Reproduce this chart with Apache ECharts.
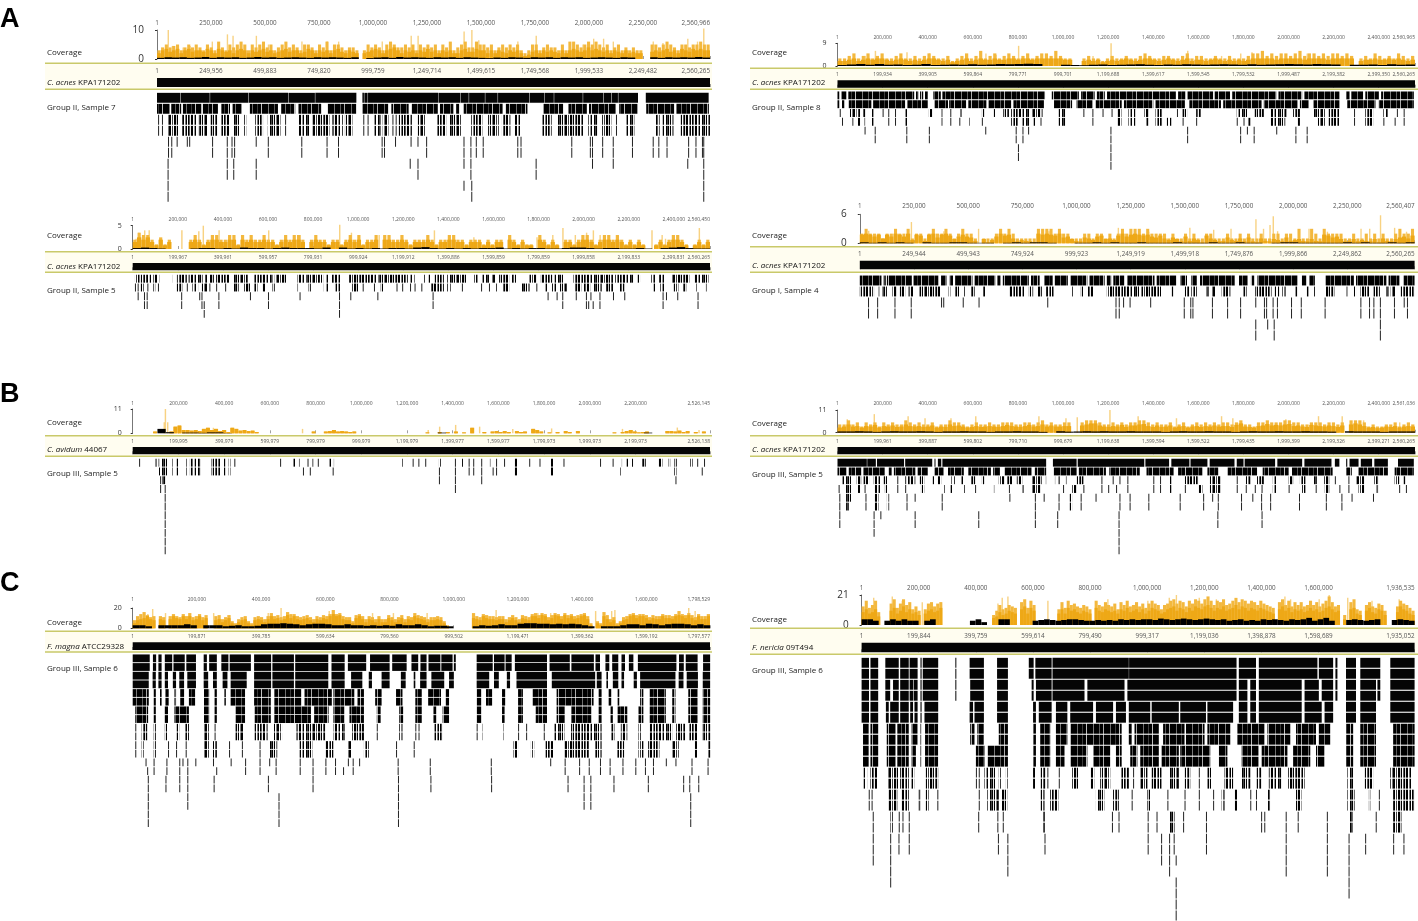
<!DOCTYPE html>
<html>
<head>
<meta charset="utf-8">
<title>Coverage</title>
<script src="https://cdn.jsdelivr.net/npm/echarts@6/dist/echarts.min.js"></script>
<style>html,body{margin:0;background:#fff}#main{width:1418px;height:921px}</style>
</head>
<body>
<div id="main"></div>
<script>
// rulers: top = sample contig, ref = reference coordinates
var topA1 = [1,250000,500000,750000,1000000,1250000,1500000,1750000,2000000,2250000,2560966];
var refA1 = [1,249956,499883,749820,999759,1249714,1499615,1749568,1999533,2249482,2560265];
var topA2 = [1,200000,400000,600000,800000,1000000,1200000,1400000,1600000,1800000,2000000,2200000,2400000,2560965];
var refA2 = [1,199934,399905,599864,799771,999701,1199688,1399617,1599545,1799532,1999487,2199382,2399350,2560265];
var topA3 = [1,200000,400000,600000,800000,1000000,1200000,1400000,1600000,1800000,2000000,2200000,2400000,2560450];
var refA3 = [1,199967,399961,599957,799931,999924,1199912,1399886,1599859,1799859,1999858,2199833,2399831,2560265];
var topA4 = [1,250000,500000,750000,1000000,1250000,1500000,1750000,2000000,2250000,2560407];
var refA4 = [1,249944,499943,749924,999923,1249919,1499918,1749876,1999866,2249862,2560265];
var topB1 = [1,200000,400000,600000,800000,1000000,1200000,1400000,1600000,1800000,2000000,2200000,2526145];
var refB1 = [1,199995,399979,599979,799979,999979,1199979,1399977,1599977,1799973,1999973,2199973,2526138];
var topB2 = [1,200000,400000,600000,800000,1000000,1200000,1400000,1600000,1800000,2000000,2200000,2400000,2561036];
var refB2 = [1,199961,399887,599802,799710,999679,1199638,1399594,1599522,1799435,1999399,2199326,2399271,2560265];
var topC1 = [1,200000,400000,600000,800000,1000000,1200000,1400000,1600000,1798529];
var refC1 = [1,199871,399785,599634,799560,999502,1199471,1399362,1599192,1797577];
var topC2 = [1,200000,400000,600000,800000,1000000,1200000,1400000,1600000,1936535];
var refC2 = [1,199844,399759,599614,799490,999317,1199036,1398878,1598689,1935052];

// coverage per equal bin along the contig: cov = body, up = highest point in the bin,
// low = dark lower part, peak = [kb, depth] of the tallest pale spikes
var covA1 = [2,3,3.5,2.5,3,3.5,2,3,3.5,2.5,3,3,2.5,3.5,3,2,3.5,3,2.5,3,2,3,3.5,3,2,3,2.5,3,3.5,2.5,3,2,2.5,3,3.5,2.5,3,3,2,2.5,3.5,3,2,3,2.5,3,2,3,3.5,2.5,2,3,2.5,2,0,2,2.5,3,3.5,3,2,3,3.5,4,3,2,3,2.5,3,2,3,2.5,3.5,2.5,3,2,3,2.5,3,2,2,3,3.5,2.5,2.5,3.5,3,3,2,3,2,3,2.5,2,3,2.5,3,2,1,1.5,2.5,3,2,3,2.5,3,2.5,2,3,2,3,3.5,3,2.5,3,4,3,3.5,3,2.5,3,2,3,2.5,2,3,2,2.5,2,2,0,0,2.5,3,2.5,3,3.5,2.5,3,2,3.5,3,2.5,3.5,3,3.5,3,3];
var upA1 = [3,4,5,4,4.5,5,3,4,5,4,5,4,3,5,4,3,6,4,3,5,4,5,6,5,3,5,4,5,6,4,5,3,4,5,6,4,5,4,3,5,5,4,3,5,4,6,3,5,5,4,3,4,4,3,0,3,5,4,5,4,3,5,6,5,4,4,5,4,5,3,5,4,5,4,5,3,5,4,6,3,4,5,6,4,4,6,5,5,4,5,3,4,5,4,5,4,5,3,2,3,5,5,3,4,5,4,4,3,5,3,6,6,5,4,5,6,5,6,5,4,5,3,4,5,3,4,3,4,3,3,0,0,5,5,4,5,6,5,4,3,5,5,4,5,5,6,5,5];
var lowA1 = [.4,.6,.5,.6,.4,.5,.7,.4,.6,.5,.6,.4,.5,.7,.5,.6,.4,.5,.6,.5,.4,.6,.5,.6,.5,.4,.6,0,.3,.5,.6,.4,.7,.5,.6,.5,.4,.6,.5,.6,.4,.6,.5,.4,.3,.5,.4,.6,.5,.4,.6,.5,.6,.4,.6,.5,.6,.4,.5,.6,.5,.4,.6,.5,0,0,.6,.4,.6,.5,.6,.5,.7,.5];
var peakA1 = [[49,10],[68,4.5],[118,4],[150,4.5],[253,6],[323,8.5],[349,8],[457,8],[513,5],[668,6],[785,6],[838,6],[1040,6],[1174,8],[1206,8],[1419,9.5],[1455,10],[1487,6.5],[1668,6],[1753,8],[1970,5],[2019,7],[2065,7],[2110,6],[2295,6],[2340,5.5],[2455,7],[2500,6],[2529,10.5]];
var covA2 = [2,2,2.5,3,2,2.5,3,2.5,3,3,2.5,2,2.5,3,2.5,2,2.5,2,2.5,3,3,2.5,2,2.5,1.5,2,2.5,3,2,2.5,3,2.5,2.5,3,2.5,2.5,3,3,2.5,3,3,2.5,3,3,3,3,3,3,2.5,2.5,0,0,2,2.5,2,2.5,1.5,2,2.5,2,2.5,3,2.5,2,2.5,3,3,2.5,2,2.5,3,2.5,2,2.5,3,2,2.5,2.5,2,2.5,3,2.5,2,2.5,2,2.5,2,2.5,3,3,3,3,3,2.5,3,3,3,3,3,2.5,3,3,3,3,2.5,3,3,3,3,3,0,2,2.5,2.5,3,2.5,2.5,3,2.5,3,2.5,2,2.5];
var upA2 = [3,3,4,5,3,4,5,3,4,5,3,3,4,5,3,3,4,3,4,5,4,3,3,4,2,3,4,5,3,4,6,3,4,5,3,4,5,4,3,4,5,3,4,5,5,4,6,4,3,3,0,0,3,4,3,3,2,3,4,3,3,4,3,3,4,5,4,3,3,4,4,3,3,4,5,3,4,4,3,3,4,3,3,4,3,3,3,4,5,5,6,4,5,4,5,5,4,5,6,4,5,5,4,5,4,5,5,4,5,4,0,3,4,3,5,4,3,4,3,5,4,3,4];
var lowA2 = [.4,.6,.8,.5,.8,.5,.6,.4,.5,.8,.4,.5,.6,.5,.7,.5,.6,.8,.7,.8,.9,.8,0,0,.5,.4,.3,.5,.6,.4,.5,.6,.7,.5,.4,.6,.5,.7,.6,.5,.6,.7,.6,.5,.7,.5,.6,.7,.8,.7,.6,.8,.7,.6,0,.5,.5,.6,.4,.7,.5,.6];
var peakA2 = [[165,6],[305,5.5],[405,5],[655,5],[800,8],[1210,9],[1550,6],[1785,5],[1835,5.5],[2080,5],[1130,4],[2230,3],[50,3.5],[120,4],[700,4.5],[1700,4]];
var covA3 = [1.5,2.5,2,2.5,1.5,.8,2,.8,1.5,0,0,0,0,1.5,2,1.5,.8,1.5,2,2,1.5,1.5,2,2,.8,2,1.5,2,1.5,1.5,2,1.5,1.5,.8,1.5,2,1.5,2,2,1.5,0,1.5,2,1.5,1.5,.8,1.5,1.5,.8,1.5,2,1.5,2,.8,1.5,1.5,2,0,2,2,1.5,1.5,2,1.5,.8,1.5,1.5,1.5,2,1.5,.8,1.5,1.5,2,2,1.5,1.5,.8,1.5,1.5,1.5,.8,1.5,.8,1.5,1.5,0,2,1.5,.8,1.5,.8,.8,0,2,1.5,.8,1.5,.8,0,1.5,1.5,.8,1.5,2,2,1.5,.8,1.5,2,2,1.5,2,1.5,.8,1.5,.8,1.5,.8,0,0,.8,1.5,.8,1.5,2,2,1.5,.8,0,.8,1.5,.8,1.5];
var upA3 = [2,3.5,3,3,2,1,2.5,1,2,0,0,0,0,2,3,2,1,2,3,3,2,2,3,3,1,3,2,3,2,2,3,2,2,1,2,3,2,3,3,2,0,2,3,2,2,1,2,2,1,2,3,2,3,1,2,2,3,0,3,3,2,2,3,2,1,2,2,2,3,2,1,2,2,3,3,2,2,1,2,2,2,1,2,1,2,2,0,3,2,1,2,1,1,0,3,2,1,2,1,0,2,2,1,2,3,3,2,1,2,3,3,2,3,2,1,2,1,2,1,0,0,1,2,1,2,3,3,2,1,0,1,2,1,2];
var lowA3 = [.2,.3,.2,.1,0,0,0,.1,.2,.2,.1,.2,.1,.3,.2,.2,.1,.2,.3,.2,.2,.2,.1,.3,0,.3,.1,.2,.1,.2,.1,.2,.2,.1,.3,.4,.2,.1,.2,.1,.2,.1,.2,.2,.3,.1,.2,.1,.2,.2,.1,.1,.2,.3,.3,.2,.1,.2,.2,.1,.1,.2,.1,0,.2,.3,.4,.2,.1,.1];
var peakA3 = [[12,2.2],[24,3.5],[50,4],[70,4],[215,4],[290,3.8],[310,5],[380,4],[600,4],[740,3],[915,5.2],[967,3.5],[1090,3],[1335,4],[1510,2.5],[1790,2.5],[1860,3],[1905,4.5],[1960,3],[2010,3.5],[2040,4],[2070,3],[2300,4],[2345,3],[2510,4.5],[2360,2.2]];
var covA4 = [1.8,2,1.8,1.4,1.8,1,1.8,1.4,2,1.8,1.4,2,.7,1.8,1.6,.5,1.8,2,1.2,1.8,2,1.6,.9,1.4,1.8,1.4,1.2,.5,0,.9,.2,.7,1.4,2,1.6,1.8,1,.4,.7,.5,.4,.2,2,1.8,2,1.8,1.6,2,1.2,1.4,.9,.5,.4,1.2,1,.7,1.4,1.6,.9,1,.7,1.6,2,1.4,1.8,2,1.8,1.6,1.8,1.4,1.2,1.6,1,.7,1.2,.9,.4,1.4,.5,1,.7,.2,1.6,1,.7,.4,.5,1.2,.7,.5,1,.4,1.2,.4,.2,1,.5,.4,.9,.7,.4,1.2,.5,.7,.9,.5,.4,.9,.5,.4,1.8,1.6,1.2,1.4,.9,.4,.5,.9,.4,.7,.5,.4,.9,.2,1,.5,.4,.9,1.2,1.4,1,1.6];
var upA4 = [2,3,2,2,2,1,2,2,3,2,2,3,1,2,2,1,2,3,2,2,3,2,1,2,3,2,2,1,0,1,1,1,2,3,2,3,2,1,1,1,1,1,3,3,3,3,2,3,2,2,1,1,1,2,2,1,2,2,1,2,1,2,3,2,3,3,3,2,3,2,2,2,2,1,2,1,1,2,1,2,1,1,2,2,1,1,1,2,1,1,2,1,2,1,1,2,1,1,2,2,1,2,2,1,3,1,1,3,2,1,3,2,2,2,2,1,1,2,1,1,2,1,2,1,2,1,1,2,3,2,2,3];
var lowA4 = [.2,.1,.2,.1,.2,.1,0,.2,.1,.1,.2,.2,.1,.1,.1,0,.1,.2,.1,.2,.2,.1,0,0,.1,.1,.2,.1,.2,.1,.1,.2,.1,.1,.1,.2,.1,.1,.1,.2,.1,.1,.2,.1,.1,0,.1,.2,.2,.1,.1,.1,.1,.1,.2,.1,.2,.1,.1,.2,.1,.2];
var peakA4 = [[38,2.6],[160,2.4],[235,4.4],[385,2.5],[545,3],[870,2.5],[1190,3.2],[1330,2.4],[1520,3.2],[1630,2.8],[1710,3],[1825,5],[1860,3],[1890,3.8],[1905,5.6],[1925,2.5],[2070,3],[2155,2.4],[2310,3],[2350,3],[2400,5.8],[2465,3.2],[2520,2.4]];
var covB1 = [0,0,0,0,0,.8,0,0,0,.8,3,3.5,1.5,1.5,1.2,1.5,1,2,2.5,1.5,2,1,1.5,.6,2.5,2,1.2,1.5,1,1.2,.6,0,0,0,0,0,0,0,0,0,0,0,0,0,.8,0,0,.8,1,1.5,.8,1,.8,.6,.8,0,0,0,0,0,0,0,0,0,0,0,0,0,0,0,0,0,.4,0,0,.6,0,.6,0,.8,0,.4,0,2.5,0,0,.6,0,.8,1,.6,1,.6,0,1,.6,.8,0,2,1.5,.8,0,.4,0,.6,0,1,.6,0,1,0,0,0,0,0,0,0,0,.4,0,.6,1,1.5,.8,.4,.6,.8,0,0,0,0,1,1,.8,1.2,.6,1,0,.6,0,.8,0];
var upB1 = covB1;
var lowB1 = [0,0,0,2,.5,0,.3,.3,.2,.4,.4,.1,0,0,0,0,0,0,0,0,0,0,0,0,0,0,0,0,0,0,0,0,0,0,0,0,0,.3,0,0,0,0,0,0,0,0,0,0,0,0,0,0,0,0,0,0,0,0,0,0,0,0,.3,0,0,0,0,0,0,0];
var peakB1 = [[140,11],[135,5],[150,5],[350,2.5],[740,2],[1340,3],[1410,3.8],[1515,3],[1290,1.5],[1660,2],[1830,2.2],[2140,2],[2380,2.6],[2475,1.5]];
var covB2 = [2.5,3,4,3,3.2,2.5,3.2,3,3.8,2.5,3.2,3,3.5,2.8,3,4,3.2,3,3.2,2.8,3,3.5,2.5,3,2.8,4,3.2,3.5,3,2.5,2.8,3.2,2.8,3,3.2,3,2.8,3.2,3.8,3.2,3,2.8,3.2,3.8,3,3.2,4,3,3.5,3,3,3.2,3.2,0,0,3.5,4,4.5,4.5,3.5,3,2.8,3.2,3,3.8,2.8,3.5,3.5,4,4.2,3.2,2.8,3.5,2.8,3,3.5,2.5,3,3.2,2.5,3,3.2,2.8,3.2,3,3.5,3,3.2,3.2,2.8,3.8,4.5,3,2.8,2.5,3.2,3.5,4.2,3.5,3.8,3.5,4,4.2,3.2,3.5,3,2.8,3.8,3.5,3.2,3,3.5,3.2,2.8,3.5,0,4,4.5,4,3.2,2.5,2.8,2.2,2.5,3,2.8,3.2,2.5,3,3.2,3];
var upB2 = [4,4,6,4,5,3,5,4,5,3,5,4,5,4,4,6,5,4,5,4,4,5,3,4,4,6,5,5,4,3,4,5,4,4,5,4,4,5,5,5,4,4,5,5,4,5,6,4,5,4,4,5,5,0,0,5,6,6,6,5,4,4,5,4,5,4,5,5,6,6,5,4,5,4,4,5,3,4,5,3,4,5,4,5,4,5,4,5,5,4,5,6,4,4,3,5,5,6,5,5,5,6,6,5,5,4,4,5,5,5,4,5,5,4,5,0,6,6,6,5,3,4,3,3,4,4,5,3,4,5,4];
var lowB2 = [.6,.6,.7,.6,.4,.6,.7,.6,.6,.7,.6,.4,.6,.6,.7,.6,.6,.4,.6,.6,.7,.6,.6,.4,0,.7,.5,.6,.7,.6,.7,.6,.6,.7,.6,.6,.6,.4,.6,.7,.6,.6,.7,.6,.6,.4,.6,.7,.6,.6,.7,.6,.6,.7,.6,.6,.5,0,.7,.6,.6,.6,.4,.6,.6,.6];
var peakB2 = [[40,6.5],[160,9],[310,8],[610,8],[890,8],[1010,7],[1060,7.5],[1205,11],[1330,8],[1500,7],[1700,8],[1750,7],[1985,6.5],[2130,8],[2235,8],[2330,6],[2490,5],[385,7],[500,7]];
var covC1 = [5,8,9,10,12,9,8,0,9,8,0,9,12,10,9,12,9,12,8,9,12,8,10,0,0,8,9,6,8,10,5,3,6,8,9,5,3,8,9,8,6,9,12,9,10,8,9,13,10,12,9,8,9,10,8,6,9,8,10,9,12,14,12,13,9,8,8,5,10,12,9,6,9,8,6,9,6,6,10,8,6,8,10,6,9,8,12,10,9,8,6,8,8,9,8,5,2,0,0,0,0,0,0,0,10,9,8,12,10,9,9,8,9,9,6,8,10,8,6,10,9,8,12,12,10,13,12,8,10,13,12,9,13,10,12,9,10,12,13,9,3,0,5,3,12,9,6,8,3,5,8,9,12,13,10,12,12,10,8,10,9,9,12,10,10,9,12,13,12,10,13,10,8,12,9,9,12];
var upC1 = [8,12,14,16,13,11,12,0,12,11,0,12,14,12,11,14,12,15,11,12,14,11,13,0,0,12,13,9,11,13,7,5,9,11,12,7,5,11,12,11,9,12,15,12,13,11,12,16,14,14,12,11,12,13,11,9,12,11,13,12,14,18,14,15,12,11,11,7,13,14,12,9,12,11,9,12,9,9,13,11,9,11,13,9,12,11,15,13,12,11,9,11,11,12,11,7,3,0,0,0,0,0,0,0,15,12,11,14,13,12,12,11,12,12,9,11,13,11,9,13,12,11,14,15,13,15,14,11,13,15,14,12,15,13,14,12,13,14,15,12,5,0,7,5,16,13,9,11,5,7,11,12,14,15,13,14,14,13,11,13,12,12,14,13,13,12,14,17,14,13,15,13,11,14,12,12,14];
var lowC1 = [3,3,2,0,3,3,3,3,4,3,0,3,3,3,2,2.5,3,2,2,2.5,4,4.5,4.5,5,4.5,4,3,4,4.5,4.5,4,3,3,4,3,3,2.5,3,2.5,3,2.5,4,3,3,4,3,2,2.5,2.5,2,0,0,0,2,3,2.5,3,4,3,3,4.5,5,5,4.5,4.5,4,4.5,4,4.5,4,3,2,0,2,2,2,3,4,4,3,4.5,4,3,4,4.5,4.5,4,3,4,3];
var peakC1 = [[60,19],[45,14],[100,15],[250,15],[300,13],[460,20],[420,15],[610,17],[745,15],[810,15],[915,15],[1130,18],[1260,15],[1300,15],[1440,17],[1490,17],[1500,18],[1730,20],[1750,17]];
var covC2 = [9,11,8,9,11,6,0,0,0,10,12,8,10,13,9,11,8,9,7,0,8,10,11,9,10,12,0,0,0,0,0,0,0,0,0,1,0,0,0,0,0,0,5,6,9,7,8,10,9,8,0,11,13,8,12,10,0,0,0,0,0,0,0,8,11,8,12,10,11,9,8,10,9,8,0,12,10,9,11,10,9,10,8,11,10,12,9,10,11,9,11,8,10,12,11,10,8,9,11,12,13,10,12,11,9,12,10,13,12,11,13,14,12,10,12,11,13,10,11,12,14,11,13,12,10,12,11,10,12,11,10,9,8,0,11,13,10,12,9,11,10,11,9,10,12,10,11,9,10,12,13,11,9,10,0,4,0,11,12,8,7,0,10,12,9,8,11,10,7,0,0,0,9,13,11,10,8,7];
var upC2 = [13,17,12,14,17,9,0,0,0,15,18,12,15,18,14,16,11,13,10,0,11,15,16,13,15,16,0,0,0,0,0,0,0,0,0,2,0,0,0,0,0,0,7,10,14,11,12,14,13,12,0,16,18,12,17,14,0,0,0,0,0,0,0,11,16,12,17,14,15,13,12,14,13,11,0,17,14,13,16,14,13,15,11,16,14,17,13,14,16,13,15,12,15,17,15,14,11,14,15,17,18,15,17,16,13,17,15,18,17,15,18,20,17,14,17,16,18,14,15,17,19,16,18,17,15,17,16,14,17,15,14,13,12,0,16,18,14,17,13,16,14,16,13,14,17,14,16,13,15,17,20,16,13,14,0,7,0,16,18,11,10,0,14,16,13,12,15,14,10,0,0,0,13,17,15,14,12,10];
var lowC2 = [4,4,3,0,3,4,3,4,3,3,0,3,4,0,0,0,0,0,0,3,4,2,0,0,4,4,0,0,0,0,3,3.5,4,3.5,3,3.5,4,4,3.5,3,3,3.5,3,3.5,3,4,3.5,4,3.5,4,4,3.5,4.5,4,3.5,4,4.5,4,3.5,4,4.5,4,3.5,4,3,3.5,4,3,3.5,3,4,3.5,4,3.5,3,4,3.5,4,5,3,4,5,3,0,0,3.5,4,3.5,3,3.5,4,0,0,3.5,4,3.5,3];
var peakC2 = [[40,19],[105,20],[140,17],[210,16],[275,16],[475,15],[490,19],[510,20],[650,17],[1075,19],[1100,21],[1180,19],[1240,18],[1480,20],[1600,18],[1635,21],[1700,19],[1785,17],[1880,18],[1500,18],[860,18],[1000,17]];

// read stacks per track row, in kb: a plain number is one short read, [from,to] a run of reads
var a1r0 = [[0,107],[109,244],[246,422],[424,607],[609,731],[733,923],[951,958],[960,975],[977,1301],[1303,1405],[1407,1443],[1445,1518],[1520,1577],[1579,1724],[1726,1794],[1796,1837],[1839,1971],[1973,2066],[2068,2103],[2105,2134],[2136,2227],[2263,2554]];
var a1r1 = [[0,60],[66,112],[120,205],[212,282],[298,338],[350,392],[430,560],[575,640],[655,760],[790,922],[952,1070],[1085,1165],[1180,1300],[1310,1372],[1385,1400],[1420,1600],[1615,1715],[1790,1880],[1905,1990],[2000,2125],[2140,2225],[2265,2395],[2405,2555]];
var a1r2 = [5,23,[51,100],[117,190],[194,236],[249,279],[296,338],[349,381],[402,413],[455,491],[513,572],593,[657,704],[720,800],[812,860],[870,905],955,975,[1000,1035],[1045,1072],1090,1105,[1120,1180],[1205,1245],[1295,1340],[1350,1412],[1455,1508],[1533,1582],[1597,1636],[1657,1689],[1785,1827],[1853,1976],[1997,2040],[2061,2104],2125,[2167,2210],[2306,2327],[2340,2391],[2423,2560]];
var a1r4 = [51,66,91,138,149,255,323,345,357,457,513,668,785,838,1040,1051,1102,1174,1206,1246,1419,1451,1476,1508,1668,1683,1918,2004,2014,2061,2110,2199,2295,2321,2359,2459,2493,2523,2529];
var a1r5 = [51,66,255,323,345,357,513,668,785,838,1040,1051,1246,1419,1451,1476,1508,1668,1683,1918,2004,2014,2061,2110,2199,2295,2321,2359,2459,2493,2523,2529];
var a1r6 = [49,323,353,457,1170,1206,1419,1451,1753,2014,2110,2455,2529];
var a1r7 = [49,323,353,457,1206,1451,1753,2529];
var a1r8 = [49,1419,1455,2529];
var a1r9 = [49,1455,2529];
var rowsA1 = [a1r0,a1r1,a1r2,a1r2,a1r4,a1r5,a1r6,a1r7,a1r8,a1r9];

var a2r0 = [[0,10],[18,40],[48,340],[348,358],[366,380],[388,400],[425,458],[465,920],[950,1070],[1080,1140],[1150,1185],[1195,1500],[1510,1545],[1552,1665],[1672,1740],[1750,1945],[1955,2060],[2070,2225],[2255,2270],[2278,2330],[2340,2400],[2410,2555]];
var a2r1 = [[0,10],[20,30],[50,150],[158,300],[310,400],[430,490],[495,570],[580,660],[670,770],[780,915],[960,1040],[1060,1130],[1145,1260],[1270,1400],[1410,1540],[1560,1700],[1710,1880],[1890,2040],[2050,2090],[2110,2225],[2260,2385],[2400,2555]];
var a2r2 = [10,[55,85],[92,100],[112,125],[150,160],200,225,255,[300,312],[405,420],[460,465],500,[540,550],[640,650],[690,700],[735,760],[770,850],[860,900],905,[980,1010],1090,1130,1175,1215,[1240,1260],[1290,1320],[1360,1380],[1410,1440],1505,[1530,1550],[1590,1610],[1770,1820],[1850,1890],[1920,1990],[2020,2050],[2110,2165],[2175,2225],2290,[2340,2375],[2420,2440],2480,2510];
var a2r3 = [20,[60,70],[90,100],[120,125],[150,160],225,255,[300,312],[460,465],500,540,[585,590],640,[770,800],[815,850],[870,880],900,[980,1010],1130,[1240,1260],[1290,1320],[1370,1380],[1410,1440],[1460,1480],1530,1590,1770,1800,[1820,1830],[1920,1985],[2040,2050],[2130,2165],[2175,2225],2290,[2340,2375],2420,2470,2510];
var a2r4 = [120,165,305,405,655,790,820,845,1210,1550,1785,1815,1845,1945,2030,2080];
var a2r5 = [165,305,405,790,820,1210,1550,1785,1845,2030,2080];
var a2r6 = [800,1210];
var a2r8 = [1210];
var rowsA2 = [a2r0,a2r1,a2r2,a2r3,a2r4,a2r5,a2r6,a2r6,a2r8];

var a3r0 = [[10,30],[35,55],[60,70],[75,85],[90,110],[120,130],[170,175],[195,200],[205,240],[248,310],[322,330],[340,360],[370,430],[442,510],[540,620],[630,680],[730,760],[770,830],[835,845],[860,870],[880,920],[960,1080],[1090,1220],[1230,1250],[1290,1300],[1310,1320],[1340,1380],[1395,1480],[1515,1530],[1545,1580],[1590,1610],[1625,1670],[1680,1700],[1760,1790],[1810,1860],[1870,1910],[1955,2130],[2140,2220],[2240,2250],[2300,2320],[2335,2360],[2390,2470],[2490,2555]];
var a3r1 = [10,22,[35,50],65,[90,100],112,[195,220],240,[265,290],[305,330],340,370,410,[442,470],[490,520],[540,555],[575,590],[620,630],[730,735],[780,790],[840,845],[860,870],[900,920],[970,1000],1020,1070,[1100,1110],1170,1195,1230,1250,1280,[1320,1380],[1395,1410],1460,1545,1580,[1610,1620],[1640,1670],[1720,1760],1790,[1830,1840],[1860,1880],[1895,1925],[1960,1990],[2000,2030],[2040,2080],[2100,2130],[2160,2180],[2310,2320],[2340,2360],[2400,2420],[2440,2455],[2500,2505],[2540,2545]];
var a3r2 = [22,50,62,215,295,305,380,520,600,740,915,965,1085,1330,1840,1880,1905,1965,2010,2030,2070,2130,2180,2350,2365,2415,2505];
var a3r3 = [50,62,215,305,315,380,600,915,1330,1905,2010,2020,2040,2070,2350,2505];
var a3r4 = [315,915];
var rowsA3 = [a3r0,a3r1,a3r2,a3r3,a3r4];

var a4r0 = [[0,100],[110,120],[125,240],[248,365],[375,400],[415,430],[440,520],[530,625],[635,650],[660,780],[790,830],[850,890],[900,960],[970,1050],[1060,1130],[1140,1160],[1170,1220],[1235,1360],[1370,1460],[1480,1510],[1530,1555],[1570,1730],[1750,1790],[1805,1820],[1835,2020],[2040,2060],[2075,2100],[2150,2280],[2290,2430],[2440,2490],[2510,2560]];
var a4r1 = [[0,10],[15,60],[65,70],[85,90],[105,125],[150,170],[185,210],[225,250],[275,370],[410,420],[440,460],[480,490],[510,530],[570,580],[690,760],[780,800],[820,840],[860,895],[975,985],[1020,1030],[1050,1080],[1140,1290],[1300,1390],[1440,1450],[1500,1520],[1530,1555],[1600,1610],[1625,1640],[1670,1710],[1770,1785],[1825,1900],[1915,1935],[1950,1965],[2010,2020],[2060,2070],[2090,2100],[2150,2190],[2240,2250],[2280,2290],[2310,2350],[2370,2400],[2430,2440],[2450,2470],[2495,2560]];
var a4r2 = [38,80,160,235,375,385,475,548,865,1180,1195,1215,1245,1340,1495,1525,1535,1625,1695,1755,1825,1865,1875,1905,1925,1990,2035,2145,2310,2350,2370,2400,2465,2510,2525];
var a4r3 = [38,80,160,235,1180,1195,1495,1525,1535,1625,1695,1755,1865,1875,1905,1925,1990,2035,2145,2310,2350,2370,2400,2465,2525];
var a4r4 = [1825,1880,1910,2400];
var a4r5 = [1825,1910,2400];
var rowsA4 = [a4r0,a4r1,a4r2,a4r3,a4r4,a4r5];

var b1r0 = [28,[100,104],[110,116],[122,150],[170,175],[190,200],[235,240],[250,262],[270,295],[345,370],[375,385],[395,405],[420,430],[445,448],645,[702,712],[725,730],765,[785,790],810,[860,870],[880,885],[1180,1182],1225,1250,1280,[1340,1348],1410,[1440,1445],1470,1490,1525,[1560,1565],1590,1625,[1670,1685],1735,1780,[1830,1840],1885,2045,2100,[2140,2145],[2160,2170],[2185,2190],[2230,2245],[2300,2320],[2345,2352],2370,[2375,2385],[2440,2450],2470,2500];
var b1r1 = [[115,150],[170,175],[190,200],[235,240],[250,262],[270,295],[345,370],[375,385],[395,405],[420,430],745,775,875,1340,1410,1470,1490,1525,1575,1590,[1670,1685],[1830,1840],[2130,2135],[2370,2380],2490];
var b1r2 = [120,[130,145],1340,1410,1525,2375];
var b1r3 = [120,140,1410];
var b1r4 = [140];
var rowsB1 = [b1r0,b1r1,b1r2,b1r3,b1r4,b1r4,b1r4,b1r4,b1r4,b1r4,b1r4];

var b2r0 = [[0,130],[132,170],[175,295],[300,420],[430,431],[445,460],[465,925],[955,1060],[1065,1360],[1365,1470],[1480,1560],[1565,1640],[1650,1760],[1770,1800],[1805,1940],[1950,2060],[2070,2190],[2205,2225],[2255,2260],[2270,2310],[2320,2370],[2380,2440],[2485,2555]];
var b2r1 = [[0,40],[50,105],[115,210],[225,240],[250,345],[355,400],[430,470],[490,560],[580,680],[690,720],[740,860],[875,925],[958,1060],[1070,1190],[1205,1340],[1370,1490],[1510,1620],[1640,1690],[1730,1860],[1885,2000],[2015,2195],[2255,2280],[2310,2440],[2470,2555]];
var b2r2 = [[20,60],[85,105],[115,140],[160,190],[205,220],265,300,[310,345],[365,385],[420,430],[445,460],[505,520],[550,560],[590,610],[640,650],[715,740],[750,775],[795,820],[860,905],[920,925],[960,965],[975,985],[1010,1015],[1060,1090],1170,1220,1250,1285,1400,1430,[1470,1480],[1540,1600],[1650,1700],1770,[1810,1830],[1860,1890],[1930,1950],[2000,2020],[2050,2075],[2110,2125],[2155,2180],2205,2265,[2300,2335],[2380,2400],[2470,2490],[2510,2520]];
var b2r3 = [5,[35,60],[90,100],120,[165,190],[210,220],265,300,[370,385],[470,475],[500,515],[560,565],610,[690,695],760,[815,825],[860,900],1000,[1040,1060],1090,1170,1200,1235,1285,1400,1430,[1470,1480],1540,[1600,1620],[1650,1700],1770,1810,1850,1880,[1930,1950],2000,[2060,2075],2120,[2160,2180],2225,2265,[2310,2335],[2390,2400],2490,2520];
var b2r4 = [8,[38,61],124,[164,184],[219,229],306,342,462,762,875,914,980,[1030,1040],1078,1144,1250,1295,1378,1517,1621,1661,1686,1789,1839,1878,1918,2046,2165,2234,2279,2374];
var b2r5 = [8,[38,50],124,[164,184],[219,229],306,462,875,980,[1030,1040],1078,1250,1295,1378,1517,1621,1686,1789,1878,1918,2046,2165,2234];
var b2r6 = [8,160,190,342,624,875,974,1246,1684,1880];
var b2r7 = [8,160,342,624,875,974,1246,1684,1880];
var b2r8 = [160,1246];
var b2r9 = [1246];
var rowsB2 = [b2r0,b2r1,b2r2,b2r3,b2r4,b2r5,b2r6,b2r7,b2r8,b2r9,b2r9];

var c1r0 = [[0,53],[63,73],[80,90],[100,123],[127,162],[167,197],[221,231],[238,262],[276,298],[302,368],[378,431],[435,502],[506,609],[619,660],[670,727],[739,800],[808,853],[868,889],[896,915],[921,958],[961,996],[1000,1006],[1071,1121],[1125,1158],[1161,1180],[1190,1290],[1298,1361],[1366,1436],[1441,1455],[1472,1484],[1493,1512],[1522,1533],[1545,1559],[1573,1693],[1701,1716],[1722,1759],[1776,1798]];
var c1r2 = [[0,50],[62,72],[80,90],[100,110],[125,135],[145,160],[170,197],[221,235],[250,262],[280,295],[305,355],[378,431],[435,502],[506,609],[619,660],[680,715],[735,745],[775,800],[835,850],[875,880],[895,915],[930,970],[985,1000],[1071,1110],[1125,1140],[1165,1175],[1195,1290],[1305,1440],[1445,1460],[1475,1480],[1495,1512],[1522,1530],[1560,1570],[1580,1690],[1700,1715],[1725,1760],[1775,1798]];
var c1r4 = [[0,50],[65,72],[85,90],[102,112],[130,135],[148,160],[175,195],[222,238],[255,262],[285,290],[305,350],[378,430],[440,525],[535,620],[625,690],[700,720],[755,775],[820,840],[880,900],[920,960],[975,985],[1071,1085],[1100,1120],[1150,1160],[1200,1215],[1245,1290],[1320,1435],[1450,1460],[1480,1490],[1510,1515],[1580,1590],[1610,1660],[1680,1690],[1730,1760],[1775,1798]];
var c1r6 = [[8,48],[65,72],[100,110],[130,175],[222,238],[255,262],[320,350],[380,430],[440,555],[565,610],[625,660],[675,720],[760,772],[830,842],[880,900],[935,945],[965,985],[1071,1085],[1150,1158],[1200,1215],[1255,1290],[1320,1345],[1365,1430],[1450,1460],[1488,1495],[1510,1540],[1575,1590],[1610,1660],[1680,1690],[1730,1760],[1775,1798]];
var c1r8 = [8,[28,45],[65,72],[100,110],[135,145],[160,175],[222,238],255,[320,345],[380,420],[440,465],[510,600],[625,660],[680,720],760,[830,840],880,890,[940,965],1071,[1085,1090],[1150,1155],1200,1225,1280,[1310,1345],[1365,1460],[1490,1500],[1520,1540],[1575,1585],[1610,1680],[1690,1720],[1730,1760],[1775,1798]];
var c1r10 = [8,[28,35],[65,72],110,135,165,[222,238],[250,262],300,340,395,[425,450],[520,560],[600,625],[670,680],[720,735],820,875,[1185,1200],[1240,1250],[1285,1310],[1345,1420],[1440,1460],[1505,1530],[1575,1590],[1605,1640],[1680,1700],[1750,1760],[1790,1798]];
var c1r12 = [40,65,105,145,155,170,195,250,305,350,395,425,445,520,560,600,630,670,685,705,825,925,1115,1300,1345,1390,1420,1455,1485,1525,1565,1595,1620,1660,1690,1740,1790];
var c1r13 = [45,65,105,145,170,260,350,395,445,520,560,600,630,655,685,825,925,1115,1345,1390,1420,1455,1485,1525,1565,1595,1620,1740,1790];
var c1r14 = [47,102,145,170,252,421,560,826,927,1116,1354,1404,1425,1497,1604,1714,1733,1761];
var c1r16 = [47,170,454,826,1404,1425,1736];
var c1r18 = [47,454,826,1736];
var rowsC1 = [c1r0,c1r0,c1r2,c1r2,c1r4,c1r4,c1r6,c1r6,c1r8,c1r8,c1r10,c1r10,c1r12,c1r13,c1r14,c1r14,c1r16,c1r16,c1r18,c1r18];

var c2r0 = [[0,26],[31,58],[83,130],[135,165],[168,196],[206,210],[214,268],[328,331],[378,428],[474,512],[585,602],[608,665],[668,935],[936,1312],[1320,1380],[1390,1595],[1600,1650],[1658,1665],[1695,1730],[1745,1815],[1850,1935]];
var c2r2 = [[0,26],[31,58],[83,100],[110,130],[135,165],[168,180],[182,196],[206,210],[214,268],[328,331],[380,428],[474,512],[595,602],[610,665],[668,780],[790,920],[930,1312],[1320,1350],[1360,1380],[1390,1540],[1550,1600],[1610,1650],[1658,1665],[1695,1730],[1745,1800],[1805,1815],[1850,1935]];
var c2r4 = [[0,26],[31,58],[85,95],[100,130],[135,165],[170,180],[185,196],[206,210],[220,268],[378,390],[395,428],[474,512],[600,610],[620,665],[680,720],[730,810],[820,880],[890,925],[935,1010],[1015,1110],[1115,1205],[1210,1300],[1320,1350],[1360,1380],[1390,1540],[1550,1610],[1620,1650],[1695,1730],[1745,1800],[1850,1935]];
var c2r6 = [[5,26],[31,58],[88,120],[125,165],[175,196],[206,210],[222,268],[380,395],[405,428],[480,512],[600,610],[625,660],[680,720],[730,910],[935,945],[955,1040],[1055,1130],[1135,1200],[1210,1290],[1315,1410],[1420,1500],[1520,1590],[1600,1640],[1695,1720],[1745,1800],[1860,1935]];
var c2r8 = [[5,26],[31,58],[88,120],[125,165],[175,190],[206,210],[222,268],[400,430],[440,512],[600,610],[625,660],[680,710],[730,790],[810,870],[890,910],[940,965],[975,1040],[1050,1110],[1115,1220],[1250,1280],[1330,1390],[1400,1490],[1510,1570],[1590,1620],[1695,1720],[1745,1800],[1860,1935]];
var c2r10 = [[7,12],[22,26],[31,55],[90,130],[135,165],[175,185],[225,268],400,410,[430,470],[480,490],[505,512],[600,610],[625,645],650,690,[735,760],[800,815],[835,870],[905,935],950,[975,1000],[1015,1050],[1075,1110],[1130,1150],1180,[1210,1225],[1270,1300],[1330,1360],[1380,1400],[1425,1470],[1490,1550],[1700,1720],[1760,1790],[1850,1925]];
var c2r12 = [25,35,[95,125],[140,165],[200,205],[225,235],265,410,[440,480],[490,510],[625,640],[660,690],[820,850],[880,900],945,[1000,1010],1070,1130,1180,1230,[1260,1270],[1305,1315],1360,1380,[1420,1430],[1520,1540],[1700,1725],[1775,1780],1810,[1860,1935]];
var c2r14 = [39,[101,112],130,143,165,408,475,494,[632,641],876,899,1001,1032,[1079,1095],1125,1205,1398,1409,1484,1526,1628,[1706,1718],1799,[1860,1889]];
var c2r16 = [39,100,129,165,477,510,640,1001,1048,1076,1092,1205,1484,1628,1704,1762,1860,1896];
var c2r18 = [39,100,510,1048,1076,1099,1484,1628,1704];
var c2r19 = [100,510,1076,1484,1628,1704];
var c2r20 = [100,1099,1704];
var c2r21 = [1099,1704];
var c2r22 = [1099];
var rowsC2 = [c2r0,c2r0,c2r2,c2r2,c2r4,c2r4,c2r6,c2r6,c2r8,c2r8,c2r10,c2r10,c2r12,c2r12,c2r14,c2r14,c2r16,c2r16,c2r18,c2r19,c2r20,c2r21,c2r22,c2r22];

// page layout of each block, pixels
var panels = [
 {ref:'C. acnes', strain:' KPA171202', sample:'Group II, Sample 7', top:topA1, rul:refA1, cov:covA1, up:upA1, low:lowA1, peak:peakA1, rows:rowsA1, solid:1, dense:1, max:10, x0:157, x1:710, bandL:45, bandR:712, lab:22.7, covT:30, covB:59, bT:63.3, bB:89.3, ref2:70.7, barT:78, barB:87, rT:92.3, pitch:11, covY:53, samY:108, refY:83, lx:47, axOff:10, fs:6.3, yfs:10},
 {ref:'C. acnes', strain:' KPA171202', sample:'Group II, Sample 8', top:topA2, rul:refA2, cov:covA2, up:upA2, low:lowA2, peak:peakA2, rows:rowsA2, solid:0, dense:2, max:9, x0:837.5, x1:1415, bandL:750, bandR:1418, lab:37.3, covT:43.3, covB:66, bT:68.3, bB:89.3, ref2:74.7, barT:80.3, barB:87.7, rT:91, pitch:8.8, covY:53, samY:108, refY:83, lx:752, axOff:8, fs:5, yfs:7},
 {ref:'C. acnes', strain:' KPA171202', sample:'Group II, Sample 5', top:topA3, rul:refA3, cov:covA3, up:upA3, low:lowA3, peak:peakA3, rows:rowsA3, solid:0, dense:0, max:5, x0:132.7, x1:710, bandL:45, bandR:712, lab:220, covT:225.7, covB:249, bT:251.7, bB:272.3, ref2:257.7, barT:263, barB:270.3, rT:274.3, pitch:8.8, covY:236, samY:291, refY:266.5, lx:47, axOff:8, fs:5, yfs:7},
 {ref:'C. acnes', strain:' KPA171202', sample:'Group I, Sample 4', top:topA4, rul:refA4, cov:covA4, up:upA4, low:lowA4, peak:peakA4, rows:rowsA4, solid:0, dense:1, max:6, x0:859.8, x1:1414.6, bandL:750, bandR:1418, lab:206.3, covT:214.3, covB:243.3, bT:246.7, bB:272.3, ref2:254, barT:260.7, barB:269.3, rT:275, pitch:11, covY:236, samY:291, refY:266, lx:752, axOff:10, fs:6.3, yfs:10},
 {ref:'C. avidum', strain:' 44067', sample:'Group III, Sample 5', top:topB1, rul:refB1, cov:covB1, up:upB1, low:lowB1, peak:peakB1, rows:rowsB1, solid:0, dense:0, max:11, x0:132.7, x1:710, bandL:45, bandR:712, lab:404, covT:409, covB:433.3, bT:435.7, bB:456.3, ref2:441.3, barT:447, barB:454.3, rT:458.3, pitch:8.77, covY:423, samY:474, refY:449.5, lx:47, axOff:8, fs:5, yfs:7},
 {ref:'C. acnes', strain:' KPA171202', sample:'Group III, Sample 5', top:topB2, rul:refB2, cov:covB2, up:upB2, low:lowB2, peak:peakB2, rows:rowsB2, solid:1, dense:1, max:11, x0:837.5, x1:1415, bandL:750, bandR:1418, lab:404, covT:410, covB:432.7, bT:435.7, bB:456.3, ref2:441.7, barT:447, barB:454.3, rT:458.3, pitch:8.77, covY:424, samY:475, refY:450, lx:752, axOff:8, fs:5, yfs:7},
 {ref:'F. magna', strain:' ATCC29328', sample:'Group III, Sample 6', top:topC1, rul:refC1, cov:covC1, up:upC1, low:lowC1, peak:peakC1, rows:rowsC1, solid:4, dense:4, max:20, x0:132.7, x1:710, bandL:45, bandR:712, lab:599.7, covT:608, covB:628.3, bT:631.3, bB:652, ref2:637, barT:642.3, barB:650, rT:654, pitch:8.67, covY:623, samY:668.7, refY:646.5, lx:47, axOff:8, fs:5, yfs:7},
 {ref:'F. nericia', strain:' 09T494', sample:'Group III, Sample 6', top:topC2, rul:refC2, cov:covC2, up:upC2, low:lowC2, peak:peakC2, rows:rowsC2, solid:6, dense:4, max:21, x0:861.6, x1:1414.6, bandL:750, bandR:1418, lab:588, covT:595, covB:625, bT:628.3, bB:654.3, ref2:636, barT:642.7, barB:652.3, rT:657.3, pitch:11, covY:620, samY:671, refY:648, lx:752, axOff:10, fs:6.3, yfs:10}
];
var letters = [['A',6],['B',381],['C',570]];

var orange = '#eea816', midOrange = '#f3b83e', paleOrange = '#f8d282', olive = '#c9c96a', cream = '#fffdf0';
var textFont = '"Open Sans","Noto Sans",sans-serif';

// barcode texture for runs of short reads: 0 black ... 255 white per pixel column
function barcode(cols) {
  var c = document.createElement('canvas');
  c.width = cols.length; c.height = 2;
  var g = c.getContext('2d');
  cols.forEach(function (v, i) {
    g.fillStyle = 'rgb(' + v + ',' + v + ',' + v + ')';
    g.fillRect(i, 0, 1, 2);
  });
  return {image: c, repeat: 'repeat'};
}
var fills = [
  '#050505',
  barcode([0,0,0,0,120,0,0,0,0,0,90,0,0,0,170,0,0,0,0,0,0,110,0,0,0,0,60,0,0,0,190,0,0]),
  barcode([0,220,0,0,255,120,0,255,0,90,240,0,0,255,150,0,255,255,0,70,0,230,0,255,120,0,0,255,60,255,0,0,200,0,255,90])
];

function rectItem(params, api) {
  var a = api.coord([api.value(0), api.value(2)]);
  var b = api.coord([api.value(1), api.value(3)]);
  var w = Math.max(b[0] - a[0], 1);
  var kind = api.value(4);
  return {
    type: 'rect',
    shape: {x: a[0], y: Math.min(a[1], b[1]), width: w, height: Math.abs(b[1] - a[1])},
    style: {fill: kind >= 0 ? fills[kind] : api.visual('color')}
  };
}
function rectSeries(axisIndex, data, color, z) {
  return {
    type: 'custom', renderItem: rectItem, data: data, silent: true, clip: false, z: z,
    xAxisIndex: axisIndex, yAxisIndex: axisIndex, itemStyle: {color: color},
    encode: {x: [0, 1], y: [2, 3]}, animation: false
  };
}
function binned(values, len) {
  return values.map(function (v, i) {
    return [i / values.length * len, (i + 1) / values.length * len, 0, v, -1];
  });
}
// thin mark in the middle of each bin
function combed(values, len) {
  return values.map(function (v, i) {
    var m = (i + 0.5) / values.length * len, w = len / 360;
    return [m - w, m + w, 0, v, -1];
  });
}
function fmt(v) { return v.toLocaleString('en-US'); }

var grids = [], xAxes = [], yAxes = [], series = [], graphics = [];

letters.forEach(function (l) {
  graphics.push({type: 'text', left: 0, top: l[1], z: 5,
    style: {text: l[0], font: 'bold 27px "Liberation Sans",sans-serif', fill: '#000'}});
});

panels.forEach(function (p) {
  var lenTop = p.top[p.top.length - 1], lenRef = p.rul[p.rul.length - 1];
  var right = 1418 - p.x1, n = grids.length;

  // band behind the reference
  graphics.push({type: 'rect', z: 0, shape: {x: p.bandL, y: p.bT, width: p.bandR - p.bandL, height: p.bB - p.bT}, style: {fill: cream}});
  [p.bT, p.bB].forEach(function (y) {
    graphics.push({type: 'line', z: 1, shape: {x1: p.bandL, y1: y, x2: p.bandR, y2: y}, style: {stroke: olive, lineWidth: 1.4}});
  });
  // row names
  [['Coverage', p.covY], [p.sample, p.samY]].forEach(function (t) {
    graphics.push({type: 'text', z: 5, x: p.lx, y: t[1], style: {text: t[0], font: '8px ' + textFont, fill: '#222', verticalAlign: 'middle'}});
  });
  graphics.push({type: 'text', z: 5, x: p.lx, y: p.refY, style: {
    text: '{i|' + p.ref + '}{n|' + p.strain + '}', verticalAlign: 'middle',
    rich: {i: {font: 'italic 8px ' + textFont, fill: '#111'}, n: {font: '8px ' + textFont, fill: '#111'}}
  }});

  // coverage track with top ruler
  grids.push({left: p.x0, right: right, top: p.covT, height: p.covB - p.covT});
  xAxes.push({gridIndex: n, type: 'value', position: 'top', min: 0, max: lenTop,
    axisLine: {show: false}, splitLine: {show: false},
    axisTick: {show: true, length: 3, inside: false, customValues: p.top, lineStyle: {color: '#777', width: 0.7}},
    axisLabel: {show: true, customValues: p.top, formatter: fmt, fontSize: p.fs, fontFamily: textFont, color: '#555', margin: p.covT - p.lab - p.fs / 2, alignMaxLabel: 'right', hideOverlap: false}});
  yAxes.push({gridIndex: n, type: 'value', min: 0, max: p.max, interval: p.max, offset: p.axOff,
    axisLine: {show: true, lineStyle: {color: '#777', width: 1}}, splitLine: {show: false},
    axisTick: {show: true, length: 2, lineStyle: {color: '#333'}},
    axisLabel: {fontSize: p.yfs, fontFamily: textFont, color: '#333', margin: 3}});
  series.push(rectSeries(n, binned(p.cov, lenTop), orange, 3));
  series.push(rectSeries(n, combed(p.up, lenTop), midOrange, 2));
  series.push(rectSeries(n, p.peak.map(function (k) { return [k[0] * 1000, k[0] * 1000 + lenTop / 400, 0, k[1], -1]; }), paleOrange, 1));
  series.push(rectSeries(n, binned(p.low, lenTop), '#000', 4));

  // reference bar with its ruler
  grids.push({left: p.x0, right: right, top: p.barT, height: p.barB - p.barT});
  xAxes.push({gridIndex: n + 1, type: 'value', position: 'top', min: 0, max: lenRef,
    axisLine: {show: false}, splitLine: {show: false},
    axisTick: {show: true, length: 3, customValues: p.rul, lineStyle: {color: '#777', width: 0.7}},
    axisLabel: {show: true, customValues: p.rul, formatter: fmt, fontSize: p.fs, fontFamily: textFont, color: '#555', margin: p.barT - p.ref2 - p.fs / 2, alignMaxLabel: 'right', hideOverlap: false}});
  yAxes.push({gridIndex: n + 1, type: 'value', min: 0, max: 1, show: false});
  series.push(rectSeries(n + 1, [[1, lenRef, 0, 1, -1]], '#050505', 3));

  // read stacks
  var reads = [];
  p.rows.forEach(function (row, r) {
    var kind = r < p.solid ? 0 : r < p.solid + p.dense ? 1 : 2;
    row.forEach(function (d) {
      if (Array.isArray(d)) reads.push([d[0] * 1000, d[1] * 1000, r + 0.05, r + 0.95, kind]);
      else reads.push([d * 1000, d * 1000, r + 0.05, r + 0.95, -1]);
    });
  });
  grids.push({left: p.x0, right: right, top: p.rT, height: p.pitch * p.rows.length});
  xAxes.push({gridIndex: n + 2, type: 'value', min: 0, max: lenRef, show: false});
  yAxes.push({gridIndex: n + 2, type: 'value', min: 0, max: p.rows.length, inverse: true, show: false});
  series.push(rectSeries(n + 2, reads, '#222', 3));
});

var myChart = echarts.init(document.getElementById('main'));
myChart.setOption({
  animation: false,
  backgroundColor: '#fff',
  grid: grids, xAxis: xAxes, yAxis: yAxes, series: series,
  graphic: {elements: graphics}
});
</script>
</body>
</html>
